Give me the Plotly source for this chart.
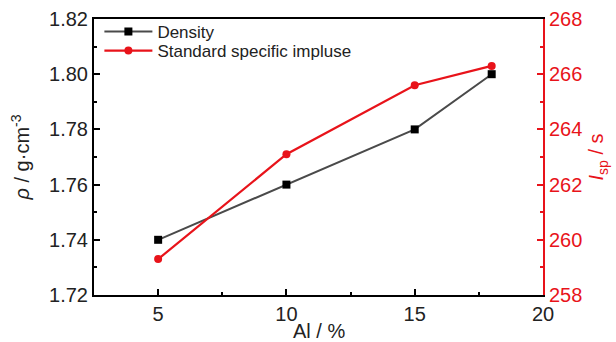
import plotly.graph_objects as go

al = [5, 10, 15, 18]
density = [1.74, 1.76, 1.78, 1.80]
isp = [259.3, 263.1, 265.6, 266.3]

FONT = "Liberation Sans, Arial, sans-serif"
RED = "#e8131a"

fig = go.Figure()
fig.add_trace(go.Scatter(
    x=al, y=density, name="Density", mode="lines+markers",
    line=dict(color="#4a4a4a", width=2),
    marker=dict(symbol="square", size=8, color="black"),
    legend="legend",
))
fig.add_trace(go.Scatter(
    x=al, y=isp, name="Standard specific impluse", mode="lines+markers",
    line=dict(color=RED, width=2.2),
    marker=dict(symbol="circle", size=8, color=RED),
    yaxis="y2", legend="legend2",
))

leg_common = dict(xanchor="left", yanchor="middle", bgcolor="rgba(0,0,0,0)",
                  font=dict(size=17, color="#222"), itemwidth=48, borderwidth=0)

fig.update_layout(
    width=616, height=342,
    margin=dict(l=94, r=73, t=19, b=47, autoexpand=False),
    paper_bgcolor="white", plot_bgcolor="white",
    font=dict(family=FONT, size=19, color="#222"),
    showlegend=True,
    legend=dict(x=0.012, y=0.953, **leg_common),
    legend2=dict(x=0.012, y=0.884, **leg_common),
    xaxis=dict(
        range=[2.5, 20], tickvals=[5, 10, 15, 20],
        showgrid=False, zeroline=False, automargin=False,
        showline=True, linecolor="black", linewidth=2, mirror=True,
        ticks="inside", ticklen=6, tickwidth=2, tickcolor="black",
        minor=dict(tickvals=[7.5, 12.5, 17.5], ticks="inside", ticklen=3, tickwidth=2, tickcolor="black"),
        tickfont=dict(size=20, color="#222"),
    ),
    yaxis=dict(
        range=[1.72, 1.82], tickvals=[1.72, 1.74, 1.76, 1.78, 1.80, 1.82],
        ticktext=["1.72", "1.74", "1.76", "1.78", "1.80", "1.82"],
        showgrid=False, zeroline=False, automargin=False,
        showline=True, linecolor="black", linewidth=2,
        ticks="inside", ticklen=6, tickwidth=2, tickcolor="black",
        minor=dict(tickvals=[1.73, 1.75, 1.77, 1.79, 1.81], ticks="inside", ticklen=3, tickwidth=2, tickcolor="black"),
        tickfont=dict(size=20, color="#222"),
        title=dict(text="<i>ρ</i> / g·cm<sup>-3</sup>", font=dict(size=20, color="#222"), standoff=14),
    ),
    yaxis2=dict(
        range=[258, 268], tickvals=[258, 260, 262, 264, 266, 268],
        overlaying="y", side="right", automargin=False,
        showgrid=False, zeroline=False,
        showline=True, linecolor=RED, linewidth=2,
        ticks="inside", ticklen=6, tickwidth=2, tickcolor=RED,
        minor=dict(tickvals=[259, 261, 263, 265, 267], ticks="inside", ticklen=3, tickwidth=2, tickcolor=RED),
        tickfont=dict(size=20, color=RED),
        title=dict(text="<i>I</i><sub>sp</sub> / s", font=dict(size=20, color=RED), standoff=8),
    ),
    annotations=[dict(
        text="Al / %", xref="paper", yref="paper", x=0.5, y=-0.13,
        xanchor="center", yanchor="middle", showarrow=False,
        font=dict(size=20, color="#222"),
    )],
)

fig.write_html("out.html")
